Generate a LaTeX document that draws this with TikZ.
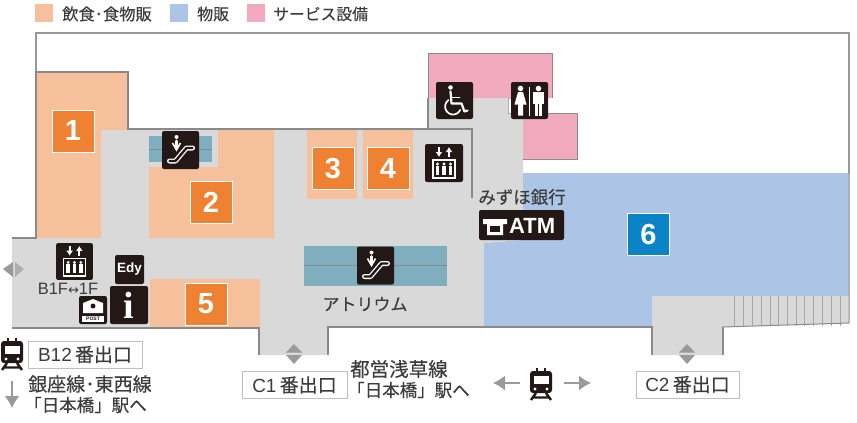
\documentclass[tikz,border=0pt]{standalone}
\usepackage{fontspec}
\setmainfont{Noto Sans CJK JP}[FakeBold=0.25]
\newfontfamily\lat{Liberation Sans}
\newfontfamily\srf{Liberation Serif}
\newfontfamily\djf{DejaVu Sans}
\definecolor{shopO}{HTML}{F5C09B}
\definecolor{numO}{HTML}{EE8232}
\definecolor{numB}{HTML}{0A84C6}
\definecolor{floorG}{HTML}{D9D9D9}
\definecolor{shopB}{HTML}{ACC5E6}
\definecolor{shopP}{HTML}{F2AABE}
\definecolor{teal}{HTML}{7FAFBE}
\definecolor{ink}{HTML}{231815}
\definecolor{wall}{HTML}{8A8A8A}
\definecolor{txt}{HTML}{3C3C3C}
\definecolor{arr}{HTML}{9A9A9A}
\usetikzlibrary{arrows.meta}
\tikzset{
  wallline/.style={draw=wall,line width=1.1pt},
  numbox/.style={fill=#1,draw=white,line width=1pt,minimum width=42pt,minimum height=42pt,inner sep=0pt,text=white,font=\lat\bfseries\fontsize{29}{29}\selectfont},
  iconbg/.style={fill=ink,rounded corners=2pt},
  wl/.style={draw=white,line width=1.2pt,line cap=round,line join=round},
  jp/.style={text=txt,inner sep=0pt,font=\fontsize{#1}{#1}\selectfont},
  exitbox/.style={draw=black!25,fill=white,line width=.8pt,inner sep=0pt,text=txt,font=\fontsize{19}{19}\selectfont},
  swatch/.style={inner sep=0pt,minimum size=18pt},
  bigarrow/.style={arr,line width=1.4pt,-{Latex[length=12pt,width=15pt]}}
}
\newcommand{\escicon}[2]{\begin{scope}[shift={(#1,#2)}]
 \fill[iconbg] (-18.5,-19) rectangle (18.5,19);
 \draw[white,line width=5pt,line join=round,line cap=round] (-11,11)--(-5,11)--(6,-2)--(12,-2);
 \draw[ink,line width=2.4pt,line join=round,line cap=round] (-11,11)--(-5,11)--(6,-2)--(12,-2);
 \fill[white] (-4,-13) circle (2);
 \draw[white,line width=2.6pt,line cap=round] (-4,-9)--(-4,-3);
 \draw[white,line width=1.6pt] (-8,-7)--(-4,0)--(0,-7);
\end{scope}}
\newcommand{\elevicon}[3]{\begin{scope}[shift={(#1,#2)},scale=#3]
 \fill[iconbg] (-19,-19) rectangle (19,19);
 \draw[white,line width=1.8pt,-{Latex[length=5pt,width=7pt]}] (-5,-16)--(-5,-6);
 \draw[white,line width=1.8pt,-{Latex[length=5pt,width=7pt]}] (5,-6)--(5,-16);
 \draw[white,line width=1.2pt] (-11,-3) rectangle (11,15);
 \foreach \q in {-6.5,0,6.5}{\fill[white] (\q,1) circle (1.6); \fill[white] (\q-1.9,3) rectangle (\q+1.9,12);}
\end{scope}}
\newcommand{\trainicon}[2]{\begin{scope}[shift={(#1,#2)}]
 \fill[ink,rounded corners=3pt] (-11,-13) rectangle (11,9);
 \fill[white] (-7.5,-8) rectangle (7.5,0);
 \fill[white] (-6,5) circle (1.6); \fill[white] (6,5) circle (1.6);
 \draw[ink,line width=2.4pt] (-5,9)--(-10,16) (5,9)--(10,16) (-8,13.5)--(8,13.5);
 \draw[ink,line width=1.6pt] (-4,-13)--(-4,-16) (4,-13)--(4,-16);
\end{scope}}
\begin{document}
\begin{tikzpicture}[x=1pt,y=-1pt]
\useasboundingbox (0,0) rectangle (857,423);
% legend
\node[swatch,fill=shopO] (s1) at (44,13) {};
\node[jp=16.3,anchor=west] (l1) at (62,14) {飲食･食物販};
\node[swatch,fill=shopB] (s2) at (179,13) {};
\node[jp=16,anchor=west] (l2) at (197,14) {物販};
\node[swatch,fill=shopP] (s3) at (256,13) {};
\node[jp=15.8,anchor=west] (l3) at (273,14) {サービス設備};
% floor
\fill[floorG] (12,238)--(36,238)--(36,72)--(128,72)--(128,130)--(428,130)--(428,98)--(508,98)--(508,113)--(523,113)--(523,240)--(484,243)--(484,327)--(328,327)--(328,355)--(259,355)--(259,328)--(12,328)--cycle;
% shops
\fill[shopO] (37,72)--(128,72)--(128,130)--(101,130)--(101,238)--(37,238)--cycle;
\fill[shopO] (218,130)--(274,130)--(274,238)--(149,238)--(149,167)--(218,167)--cycle;
\fill[shopO] (307,130) rectangle (357,199);
\fill[shopO] (363,130) rectangle (413,199);
\fill[shopO] (150,279) rectangle (260,327);
% blue
\fill[shopB] (523,173)--(849,173)--(849,296)--(652,296)--(652,327)--(484,327)--(484,243)--(523,240)--cycle;
% pink
\fill[shopP] (428,53) rectangle (552,98);
\fill[shopP] (523,113) rectangle (577,159);
\draw[draw=wall,line width=.8pt] (428,98)--(428,53)--(552,53)--(552,98);
\draw[draw=wall,line width=.8pt] (523,113)--(577,113)--(577,159)--(523,159);
\draw[draw=wall!70,line width=.8pt] (511,98)--(508,98)--(508,113)--(511,113);
% C2 and stairs
\fill[floorG] (652,296)--(849,296)--(849,323)--(723,327)--(723,355)--(652,355)--cycle;
\foreach \q in {734,743,752,761,770,778,787,796,804,813,822,831,840}{\draw[draw=black!35,line width=.6pt] (\q,296)--(\q,326);}
% walls
\draw[draw=black!40,line width=1.6pt] (849,174)--(849,33)--(36,33)--(36,72);
\draw[draw=wall,line width=1pt] (849,174)--(849,323)--(723,327);
\draw[wallline] (12,238)--(36,238)--(36,72)--(128,72)--(128,129)--(428,129)--(428,98);
\draw[wallline] (428,129)--(472,129)--(472,198);
\draw[wallline] (12,328)--(259,328)--(259,355);
\draw[wallline] (328,355)--(328,327)--(652,327)--(652,355);
\draw[wallline] (723,355)--(723,327);
% escalators
\fill[teal] (149,136) rectangle (212,162);
\draw[draw=wall,line width=.7pt] (149,149)--(212,149);
\escicon{180.5}{150}
\fill[teal] (304,246) rectangle (447,286);
\draw[draw=wall,line width=.8pt] (304,265)--(447,265);
\escicon{375.5}{265.5}
% numbers
\node[numbox=numO] (n1) at (73,131) {1};
\node[numbox=numO] (n2) at (211,202) {2};
\node[numbox=numO] (n3) at (333,168.5) {3};
\node[numbox=numO] (n4) at (388,168.5) {4};
\node[numbox=numO] (n5) at (206,304) {5};
\node[numbox=numB] (n6) at (648.5,234.5) {6};
% elevators
\elevicon{74.5}{261.5}{.97}
\elevicon{444}{163}{1}
% wheelchair
\begin{scope}[shift={(454.5,100.5)}]
 \fill[iconbg] (-18.5,-18.5) rectangle (18.5,18.5);
 \fill[white] (-4,-13) circle (2.3);
 \draw[wl,line width=2.2pt] (-4,-9)--(-3,3)--(7,3)--(10,11)--(13,10);
 \draw[wl,line width=1.6pt] (-3,-3)--(5,-3);
 \draw[wl,line width=1.7pt] (-6,-0.5) arc[start angle=235,end angle=25,radius=8];
\end{scope}
% toilet
\begin{scope}[shift={(529.5,100.5)}]
 \fill[iconbg] (-18.5,-18.5) rectangle (18.5,18.5);
 \fill[white] (-9,-12) circle (2.8);
 \fill[white] (-11.5,-8.5)--(-6.5,-8.5)--(-3,4)--(-6.5,4)--(-6.5,15)--(-11.5,15)--(-11.5,4)--(-15,4)--cycle;
 \draw[white,line width=1.2pt] (0,-14)--(0,15);
 \fill[white] (9,-12) circle (2.8);
 \fill[white] (3.5,-8.5) rectangle (14.5,3);
 \fill[white] (5.5,0) rectangle (8.5,15);
 \fill[white] (9.5,0) rectangle (12.5,15);
\end{scope}
% Edy
\fill[iconbg] (115,255) rectangle (144,284);
\node[inner sep=0pt,text=white,font=\lat\bfseries\fontsize{13.5}{14}\selectfont] (edy) at (129.5,269.5) {Edy};
% info
\fill[iconbg] (110,286) rectangle (148,324);
\node[inner sep=0pt,text=white,font=\srf\bfseries\fontsize{38}{38}\selectfont] (info) at (129,305) {i};
% post
\fill[iconbg] (79,296) rectangle (107,324);
\fill[white] (83,303)--(93,299)--(103,303)--(103,313)--(83,313)--cycle;
\fill[ink] (93,306) circle (2.5);
\fill[white] (82,315.5) rectangle (104,322);
\node[inner sep=0pt,text=ink,font=\lat\bfseries\fontsize{5}{5}\selectfont] (post) at (93,318.8) {POST};
% ATM
\fill[iconbg] (479,210) rectangle (564,240);
\fill[white] (483,219)--(507,219)--(507,224)--(503,224)--(503,235)--(487,235)--(487,224)--(483,224)--cycle;
\fill[ink] (490,226) rectangle (500,232);
\node[inner sep=0pt,anchor=west,text=white,font=\lat\bfseries\fontsize{22}{22}\selectfont] (atm) at (509,225.5) {ATM};
% labels
\node[jp=17.5] (mizuho) at (522,197) {みずほ銀行};
\node[jp=17] (atrium) at (365,304) {アトリウム};
\node[text=txt,inner sep=0pt,font=\lat\fontsize{16.5}{16.5}\selectfont] (b1f) at (68,289) {B1F{\djf\fontsize{13}{13}\selectfont↔}1F};
% side arrows
\fill[arr] (3,269)--(13,262)--(13,277)--cycle;
\fill[arr!80] (15,262)--(24,269)--(15,277)--cycle;
\fill[arr] (294,344)--(286,352.5)--(302,352.5)--cycle;
\fill[arr] (286,355)--(302,355)--(294,364)--cycle;
\fill[arr] (687,344)--(679,352.5)--(695,352.5)--cycle;
\fill[arr] (679,355)--(695,355)--(687,364)--cycle;
% exits
\node[exitbox,minimum width=114pt,minimum height=27pt] (b12) at (85,354.5) {{\lat B12\,}番出口};
\node[exitbox,minimum width=105pt,minimum height=27pt] (c1) at (294.5,385) {{\lat C1\,}番出口};
\node[exitbox,minimum width=103pt,minimum height=27pt] (c2) at (687.5,384.5) {{\lat C2\,}番出口};
% trains
\trainicon{12}{354}
\trainicon{541}{384}
\draw[bigarrow] (12,381)--(12,408);
\draw[bigarrow] (520,383)--(493,383);
\draw[bigarrow] (564,383)--(591,383);
% line text
\node[jp=19,anchor=west] (t1) at (28,384) {銀座線･東西線};
\node[jp=17.5,anchor=west] (t2) at (24,405) {「日本橋」駅へ};
\node[jp=19.5,anchor=west] (t3) at (350,369) {都営浅草線};
\node[jp=17.5,anchor=west] (t4) at (347,390) {「日本橋」駅へ};
\end{tikzpicture}
\end{document}
